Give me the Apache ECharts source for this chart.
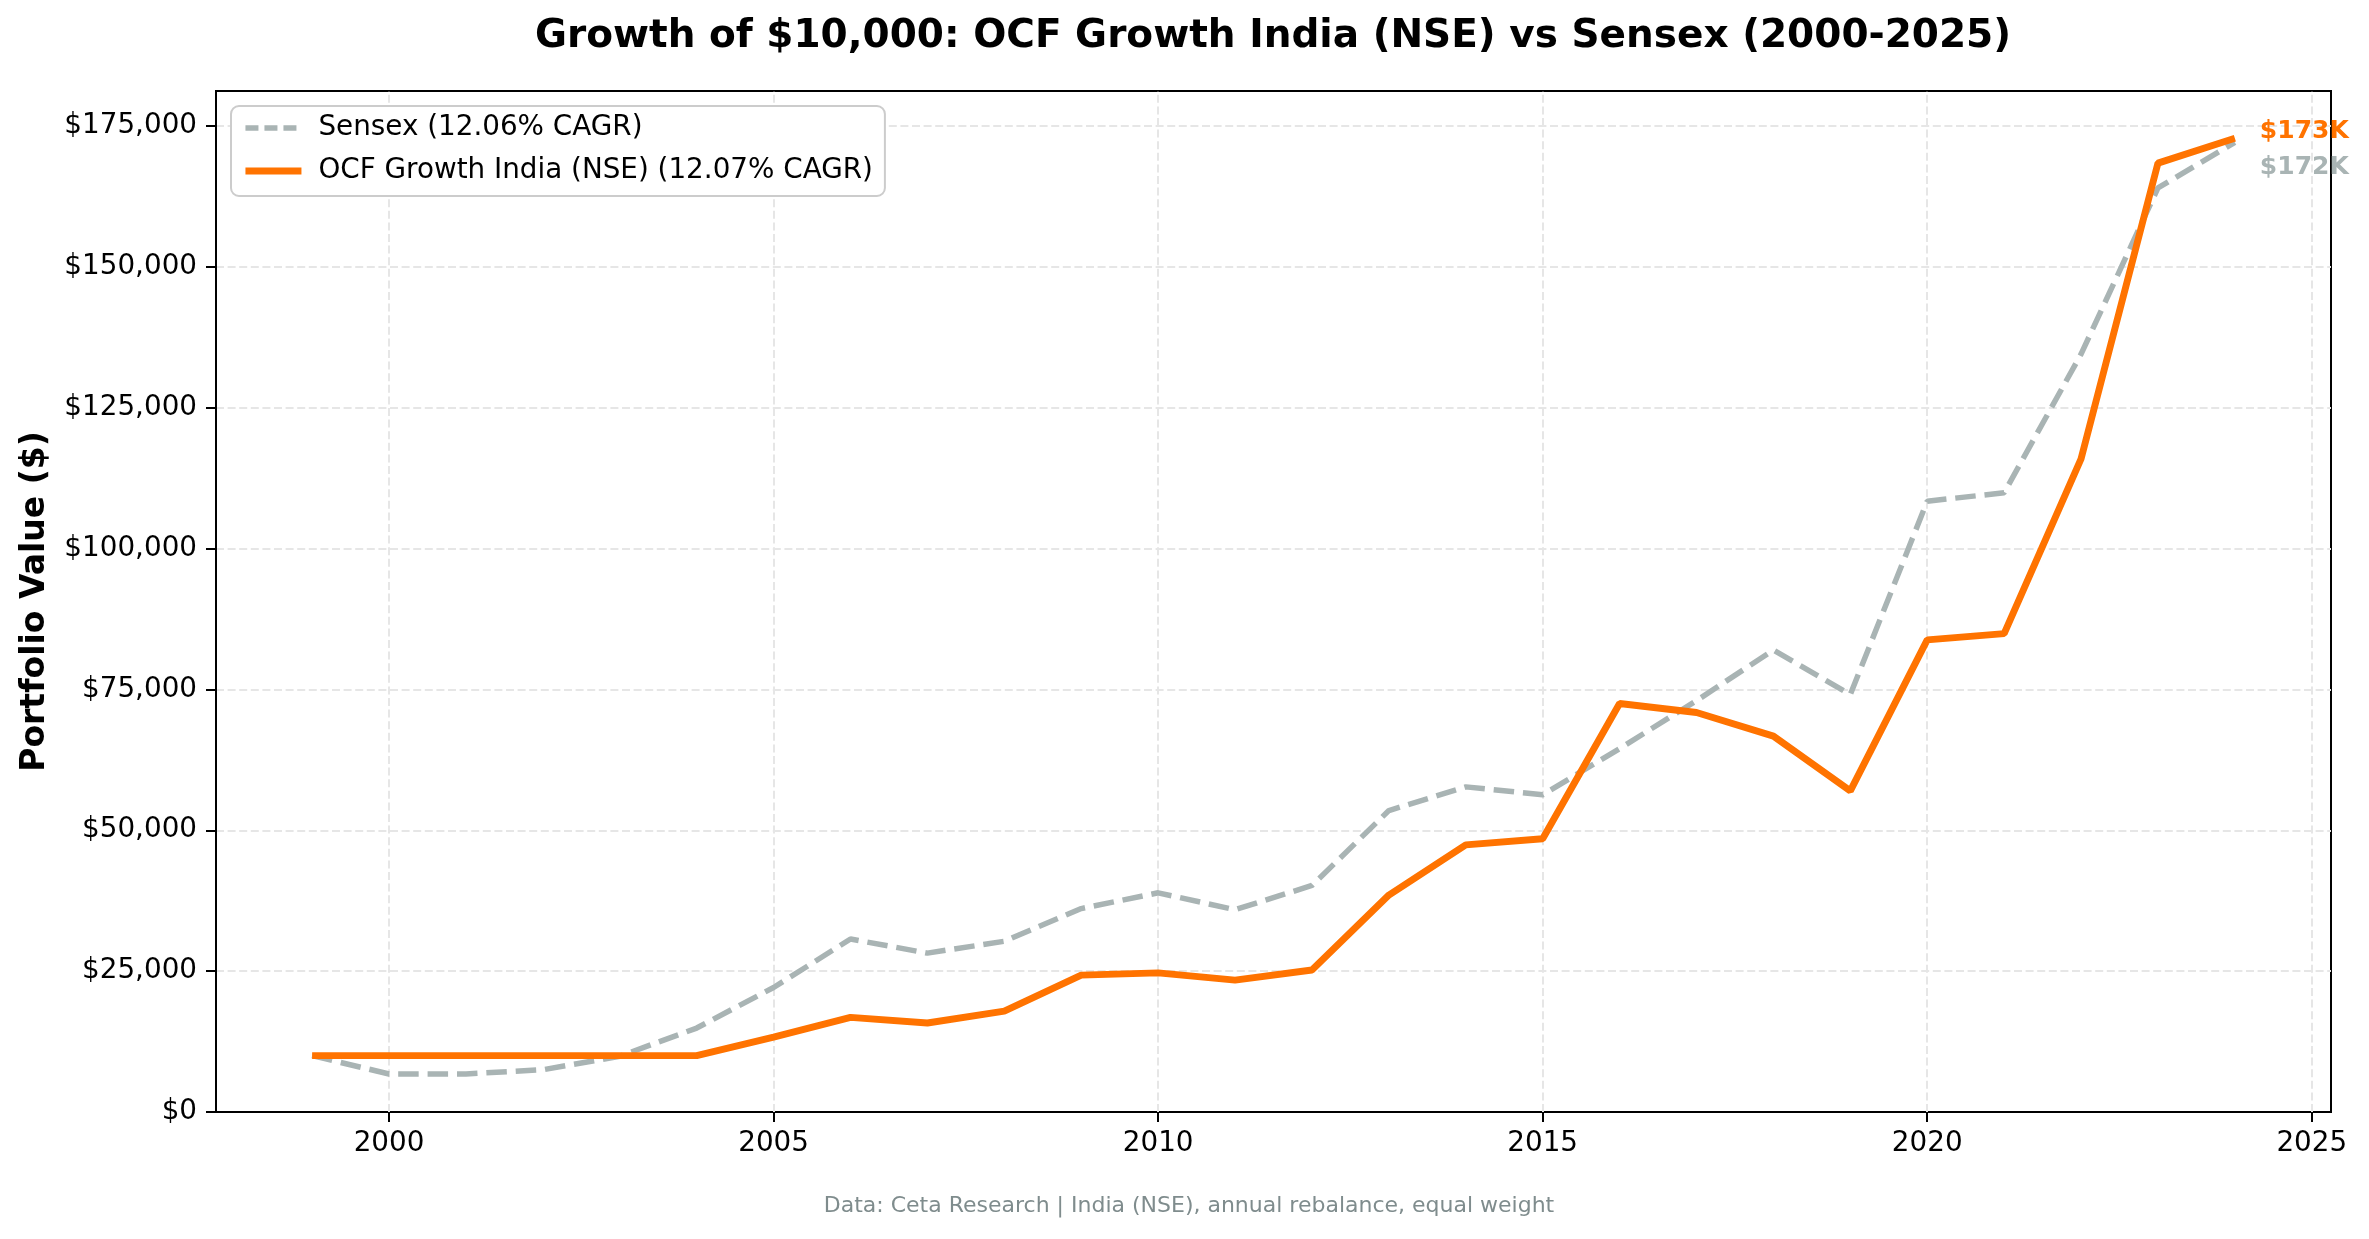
<!DOCTYPE html>
<html><head><meta charset="utf-8">
<script src="https://cdn.jsdelivr.net/npm/echarts@6/dist/echarts.min.js"></script>
<style>html,body{margin:0;padding:0;background:#fff}#c{width:2369px;height:1239px}</style>
</head><body><div id="c"></div>
<script>
const years = [1999,2000,2001,2002,2003,2004,2005,2006,2007,2008,2009,2010,2011,2012,2013,2014,2015,2016,2017,2018,2019,2020,2021,2022,2023,2024];
const sensexValues = [10000,6750,6750,7500,9900,14900,22100,30700,28200,30300,36100,38900,35900,40200,53500,57700,56300,64500,73000,82000,74100,108400,109900,134500,164000,172100];
const ocfValues = [10000,10000,10000,10000,10000,10000,13300,16800,15800,17900,24300,24700,23400,25200,38500,47400,48500,72500,70900,66700,57000,83800,84900,115900,168400,172800];
const xTickYears = [2000,2005,2010,2015,2020,2025];
const yTickValues = [0,25000,50000,75000,100000,125000,150000,175000];
const seriesNames = ['Sensex (12.06% CAGR)','OCF Growth India (NSE) (12.07% CAGR)'];
const titleText = 'Growth of $10,000: OCF Growth India (NSE) vs Sensex (2000-2025)';
const yAxisTitle = 'Portfolio Value ($)';
const footerText = 'Data: Ceta Research | India (NSE), annual rebalance, equal weight';

const FONT = 'DejaVu Sans';
const ORANGE = '#FF7300';
const GRAY = '#A9B4B4';
const GRID_COLOR = '#e6e6e6';
const grayLine = {color:GRAY, width:5.5, type:[20.5,8.9]};
const orangeLine = {color:ORANGE, width:6.9, type:'solid'};

function pairs(vals){ return years.map((y,i)=>[y,vals[i]]); }
function kLabel(vals){ return '$' + Math.round(vals[vals.length-1]/1000) + 'K'; }

const chart = echarts.init(document.getElementById('c'), null, {renderer:'canvas'});
chart.setOption({
  animation:false,
  backgroundColor:'#fff',
  textStyle:{fontFamily:FONT},
  title:[
    {text:titleText, left:1273, top:17, padding:0, textAlign:'center',
     textStyle:{fontFamily:FONT, fontSize:39, fontWeight:'bold', color:'#000'}},
    {text:footerText, left:1189, top:1195, padding:0, textAlign:'center',
     textStyle:{fontFamily:FONT, fontSize:22, fontWeight:'normal', color:'#7f8c8d'}}
  ],
  legend:{
    data:[
      {name:seriesNames[0], lineStyle:{color:GRAY, width:5.5, type:[13,6]}, itemStyle:{opacity:0}},
      {name:seriesNames[1], lineStyle:{color:ORANGE, width:6.9, type:'solid'}, itemStyle:{opacity:0}}
    ],
    orient:'vertical', left:231, top:106,
    itemWidth:56, itemHeight:20, itemGap:15,
    padding:[8,12,11,11], borderRadius:8, borderColor:'#cccccc', borderWidth:2,
    backgroundColor:'#fff',
    textStyle:{fontFamily:FONT, fontSize:27.8, color:'#000', padding:[0,0,0,12]}
  },
  grid:{left:216, right:38, top:91, bottom:127, show:true, borderColor:'#000', borderWidth:2, backgroundColor:'transparent'},
  xAxis:{
    type:'value', min:1997.75, max:2025.25,
    axisLine:{show:true, onZero:false, lineStyle:{color:'#000', width:2}},
    axisTick:{show:true, customValues:xTickYears, length:10, lineStyle:{color:'#000', width:2}},
    axisLabel:{show:true, customValues:xTickYears, margin:18, fontFamily:FONT, fontSize:27.8, color:'#000', formatter:v=>String(v)},
    splitLine:{show:false}
  },
  yAxis:{
    type:'value', min:0, max:181200, interval:25000,
    name:yAxisTitle, nameLocation:'middle', nameGap:164,
    nameTextStyle:{fontFamily:FONT, fontSize:33, fontWeight:'bold', color:'#000'},
    axisLine:{show:true, lineStyle:{color:'#000', width:2}},
    axisTick:{show:true, customValues:yTickValues, length:10, lineStyle:{color:'#000', width:2}},
    axisLabel:{show:true, customValues:yTickValues, margin:19, fontFamily:FONT, fontSize:27.8, color:'#000',
      formatter:v=>'$' + Number(v).toLocaleString('en-US')},
    splitLine:{show:true, lineStyle:{color:GRID_COLOR, width:2, type:[8,3.6]}}
  },
  series:[
    {name:seriesNames[0], type:'line', data:pairs(sensexValues), showSymbol:false, symbol:'none', z:3,
     lineStyle:grayLine, itemStyle:{color:GRAY},
     endLabel:{show:true, formatter:()=>kLabel(sensexValues), color:GRAY, fontFamily:FONT, fontWeight:'bold', fontSize:25, distance:25, offset:[0,25]},
     markLine:{silent:true, symbol:'none', z:1, animation:false, label:{show:false},
       lineStyle:{color:GRID_COLOR, width:2, type:[8,3.6]},
       data:xTickYears.map(y=>({xAxis:y}))}
    },
    {name:seriesNames[1], type:'line', data:pairs(ocfValues), showSymbol:false, symbol:'none', z:4,
     lineStyle:orangeLine, itemStyle:{color:ORANGE},
     endLabel:{show:true, formatter:()=>kLabel(ocfValues), color:ORANGE, fontFamily:FONT, fontWeight:'bold', fontSize:25, distance:25, offset:[0,-7]}
    }
  ]
});
</script></body></html>
